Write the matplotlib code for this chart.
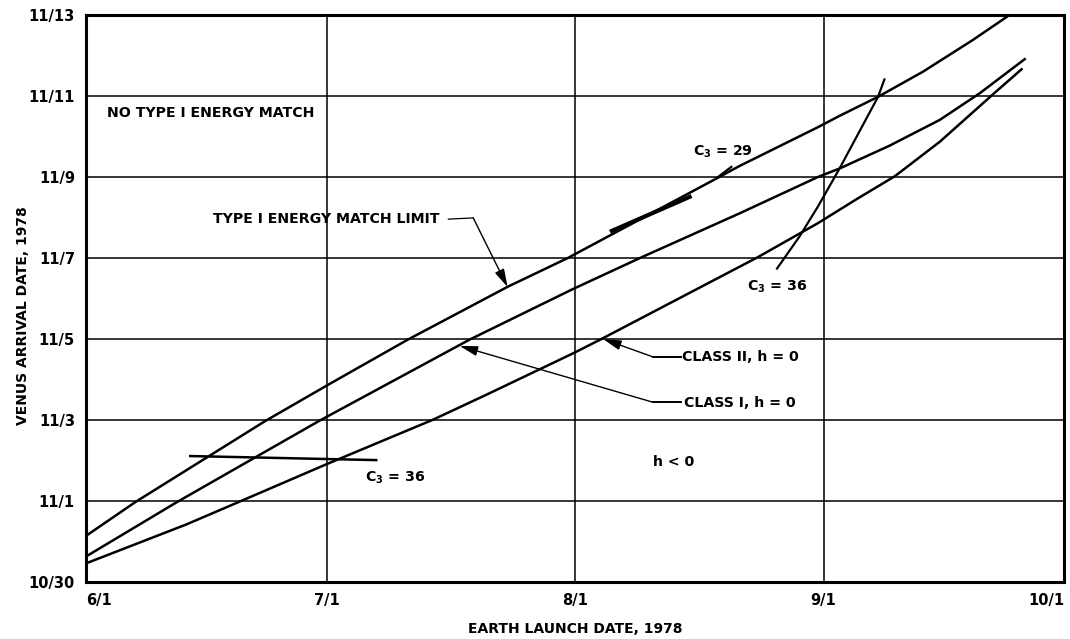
import matplotlib
matplotlib.use('Agg')
import matplotlib.pyplot as plt

# x: days after June 1, 1978; y: days after Oct 30, 1978
launch_ticks = [0, 30, 61, 92, 122]
launch_labels = ['6/1', '7/1', '8/1', '9/1', '10/1']
arrival_ticks = [0, 2, 4, 6, 8, 10, 12, 14]
arrival_labels = ['10/30', '11/1', '11/3', '11/5', '11/7', '11/9', '11/11', '11/13']

# type I energy match limit
limit_x = [0, 6.2, 22.4, 30.2, 40.1, 52.6, 60.1, 78.8, 81.5, 91.3, 94.0, 98.8, 104.4, 110.6, 115.2]
limit_y = [1.14, 1.98, 3.98, 4.87, 5.98, 7.29, 8.0, 9.98, 10.27, 11.23, 11.51, 11.98, 12.60, 13.38, 14.0]

# class I, h = 0
class1_x = [0, 11.4, 29.1, 47.8, 60.7, 69.1, 81.5, 91.3, 94.0, 100.2, 106.5, 111.5, 117.1]
class1_y = [0.63, 1.98, 3.98, 5.98, 7.23, 8.0, 9.1, 10.0, 10.21, 10.77, 11.41, 12.07, 12.91]

# class II, h = 0
class2_x = [0, 12.5, 19.1, 29.9, 43.2, 49.9, 60.8, 64.1, 83.8, 91.3, 96.1, 100.9, 106.5, 113.3, 116.7]
class2_y = [0.46, 1.42, 1.98, 2.90, 4.0, 4.62, 5.65, 5.98, 8.02, 8.86, 9.45, 10.02, 10.87, 12.07, 12.66]

# C3 contours
c3_36_low_x = [13.0, 36.2]
c3_36_low_y = [3.11, 3.01]
c3_36_high_x = [86.2, 89.0, 91.3, 94.0, 98.8, 99.6]
c3_36_high_y = [7.74, 8.53, 9.27, 10.21, 11.98, 12.41]
c3_29_x = [65.6, 75.3]
c3_29_y = [8.67, 9.51]

plt.rcParams['font.family'] = 'DejaVu Sans'
plt.rcParams['font.weight'] = 'bold'
plt.rcParams['mathtext.default'] = 'bf'

fig = plt.figure(figsize=(10.7, 6.39), dpi=100)
ax = fig.add_axes([0.0804, 0.0892, 0.9140, 0.8873])
ax.set_xlim(0, 122)
ax.set_ylim(0, 14)

ax.set_xticks(launch_ticks)
ax.set_xticklabels(launch_labels, fontsize=10.5, fontweight='bold')
ax.set_yticks(arrival_ticks)
ax.set_yticklabels(arrival_labels, fontsize=10.5, fontweight='bold')
ax.tick_params(length=0, pad=8)
ax.xaxis.get_ticklabels()[0].set_ha('left')
ax.xaxis.get_ticklabels()[-1].set_ha('right')
ax.grid(True, color='black', linewidth=1.1)
for sp in ax.spines.values():
    sp.set_linewidth(2.2)

ax.set_xlabel('EARTH LAUNCH DATE, 1978', fontsize=10, fontweight='bold')
ax.set_ylabel('VENUS ARRIVAL DATE, 1978', fontsize=10, fontweight='bold')
ax.xaxis.set_label_coords(0.5, -0.07)
ax.yaxis.set_label_coords(-0.057, 0.47)

lw = 1.8
ax.plot(limit_x, limit_y, color='black', lw=lw)
ax.plot(class1_x, class1_y, color='black', lw=lw)
ax.plot(class2_x, class2_y, color='black', lw=lw)
ax.plot(c3_36_low_x, c3_36_low_y, color='black', lw=lw)
ax.plot(c3_36_high_x, c3_36_high_y, color='black', lw=1.6)
ax.plot(c3_29_x, c3_29_y, color='black', lw=3)
ax.plot([78.7, 80.5], [9.98, 10.25], color='black', lw=1.6)

txt = dict(fontsize=10.2, fontweight='bold', color='black', va='center', ha='left')
ax.text(2.6, 11.58, 'NO TYPE I ENERGY MATCH', **txt)
ax.text(15.8, 8.96, 'TYPE I ENERGY MATCH LIMIT', **txt)
ax.text(74.4, 5.56, 'CLASS II, h = 0', **txt)
ax.text(74.6, 4.42, 'CLASS I, h = 0', **txt)
ax.text(70.7, 2.96, 'h < 0', **txt)
ax.text(75.7, 10.62, r'C$_3$ = 29', **txt)
ax.text(82.4, 7.28, r'C$_3$ = 36', **txt)
ax.text(34.8, 2.57, r'C$_3$ = 36', **txt)

arrow = dict(arrowstyle='-|>,head_length=1.1,head_width=0.3', color='black', lw=1.0,
             shrinkA=0, shrinkB=0)
# leaders to the curves
ax.plot([45.2, 48.3], [8.96, 8.99], color='black', lw=0.9)
ax.annotate('', xy=(52.6, 7.28), xytext=(48.3, 8.99), arrowprops=arrow)
ax.plot([70.7, 74.2], [5.56, 5.56], color='black', lw=1.4)
ax.annotate('', xy=(64.5, 6.0), xytext=(70.7, 5.56), arrowprops=arrow)
ax.plot([70.7, 74.2], [4.44, 4.44], color='black', lw=1.4)
ax.annotate('', xy=(46.6, 5.83), xytext=(70.7, 4.44), arrowprops=arrow)

fig.savefig('out.png', dpi=100)
